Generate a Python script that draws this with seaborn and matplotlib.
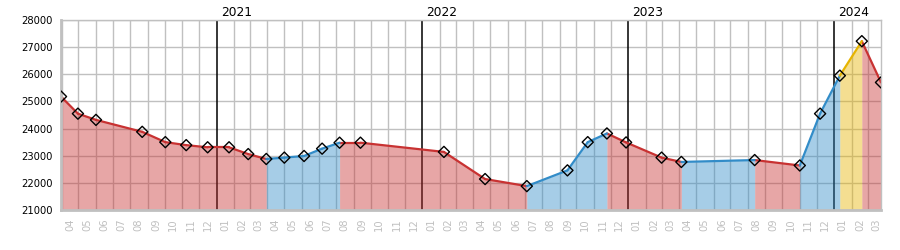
import matplotlib
matplotlib.use("Agg")
import matplotlib.pyplot as plt
import matplotlib.dates as mdates
import matplotlib.transforms as mtransforms
import numpy as np
import pandas as pd
import seaborn as sns

# ---- data ----
dates = ["2020-03-31", "2020-04-30", "2020-06-01", "2020-08-22", "2020-10-02",
         "2020-11-08", "2020-12-16", "2021-01-23", "2021-02-26", "2021-03-30",
         "2021-05-01", "2021-06-05", "2021-07-07", "2021-08-07", "2021-09-13",
         "2022-02-08", "2022-04-22", "2022-07-05", "2022-09-15", "2022-10-21",
         "2022-11-24", "2022-12-28", "2023-03-01", "2023-04-05", "2023-08-13",
         "2023-11-01", "2023-12-07", "2024-01-11", "2024-02-19", "2024-03-24"]
values = [25180, 24550, 24320, 23880, 23500,
          23390, 23310, 23310, 23060, 22880,
          22930, 22990, 23260, 23480, 23480,
          23140, 22140, 21880, 22460, 23500,
          23820, 23490, 22930, 22770, 22840,
          22640, 24550, 25950, 27220, 25700]
# trend of each segment between consecutive points
segment_trend = (["down"] * 9 + ["up"] * 4 + ["down"] * 4 + ["up"] * 3 +
                 ["down"] * 3 + ["up"] * 1 + ["down"] * 1 + ["up"] * 2 +
                 ["peak"] * 1 + ["down"] * 1)
y_ticks = [21000, 22000, 23000, 24000, 25000, 26000, 27000, 28000]

line_colors = {"down": "#c83232", "up": "#328cc8", "peak": "#e6b400"}

sns.set_theme(style="white")
plt.rcParams["font.family"] = ["DejaVu Sans"]

dt = pd.to_datetime(dates)
rows = []
for i, trend in enumerate(segment_trend):
    for j in (i, i + 1):
        rows.append({"date": dt[j], "value": values[j], "trend": trend, "seg": i})
seg_df = pd.DataFrame(rows)
pts_df = pd.DataFrame({"date": dt, "value": values})

# contiguous runs of the same trend (point index ranges)
runs = []
start = 0
for i in range(1, len(segment_trend) + 1):
    if i == len(segment_trend) or segment_trend[i] != segment_trend[start]:
        runs.append((start, i, segment_trend[start]))
        start = i

fig = plt.figure(figsize=(9, 2.5), dpi=100)
ax = fig.add_axes([61 / 900, 1 - 210 / 250, 820 / 900, 190 / 250])

grid_c = "#c0c0c0"
for yv in y_ticks:
    ax.axhline(yv, color=grid_c, lw=1, zorder=0)
month_starts = pd.date_range("2020-04-01", "2024-03-01", freq="MS")
for m in month_starts:
    if m.month == 1:
        ax.axvline(m, color="black", lw=1.1, zorder=0.5)
    else:
        ax.axvline(m, color=grid_c, lw=1, zorder=0)

# fills, one polygon per run of equal trend
for a, b, trend in runs:
    ax.fill_between(dt[a:b + 1], values[a:b + 1], y_ticks[0],
                    color=line_colors[trend], alpha=0.43, lw=0,
                    antialiased=False, zorder=1)

sns.lineplot(data=seg_df, x="date", y="value", hue="trend", units="seg",
             estimator=None, palette=line_colors, lw=1.6, legend=False,
             ax=ax, zorder=2)
sns.scatterplot(data=pts_df, x="date", y="value", marker="D", s=32,
                facecolor="none", edgecolor="black", linewidth=1,
                ax=ax, zorder=3)

ax.set_xlim(dt[0], dt[-1])
ax.set_ylim(y_ticks[0], y_ticks[-1])
ax.set_yticks(y_ticks)
ax.set_yticklabels([str(v) for v in y_ticks])
ax.tick_params(axis="y", length=0, pad=6, labelsize=7.2, labelcolor="black")

ax.set_xticks(month_starts)
ax.set_xticklabels([])
mid_months = month_starts + pd.Timedelta(days=15)
ax.set_xticks(mid_months, minor=True)
ax.set_xticklabels([d.strftime("%m") for d in mid_months], minor=True,
                   rotation=90, va="top", ha="center")
ax.tick_params(axis="x", which="both", length=0)
ax.tick_params(axis="x", which="minor", pad=6, labelsize=7.2, labelcolor=grid_c)
ax.set_xlabel("")
ax.set_ylabel("")
ax.grid(False)

for side in ["left", "bottom"]:
    ax.spines[side].set_color(grid_c)
    ax.spines[side].set_linewidth(2)
for side in ["right", "top"]:
    ax.spines[side].set_color(grid_c)
    ax.spines[side].set_linewidth(1)

trans = mtransforms.blended_transform_factory(ax.transData, ax.transAxes)
trans = mtransforms.offset_copy(trans, fig=fig, x=4, y=0, units="dots")
for m in month_starts:
    if m.month == 1:
        ax.text(m, 1 + 7.5 / 190, str(m.year), transform=trans, ha="left",
                va="center", fontsize=8.8, color="black")

fig.savefig("out.png", dpi=100)
